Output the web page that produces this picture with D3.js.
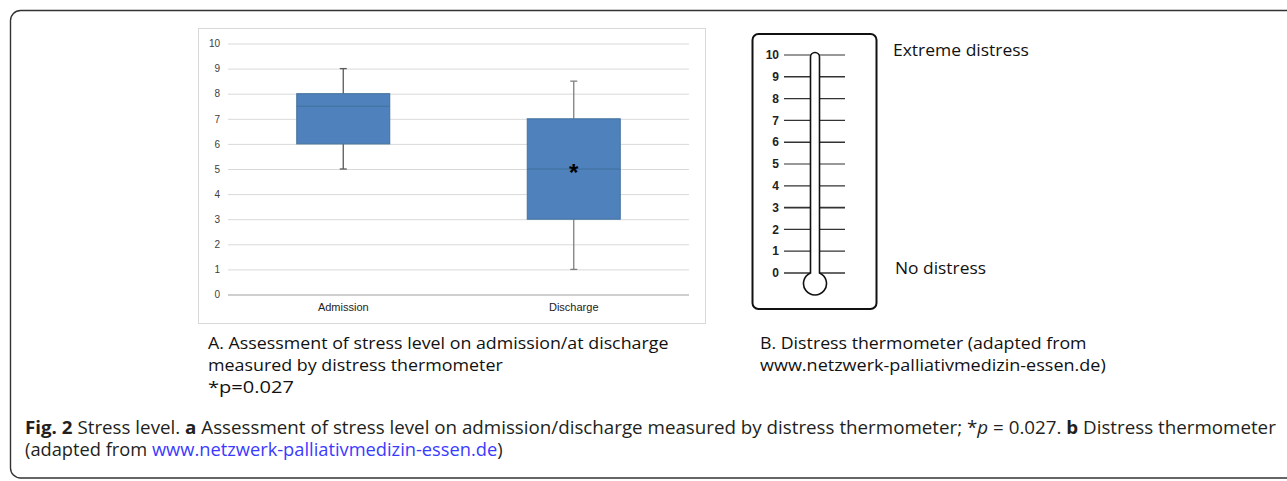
<!DOCTYPE html>
<html><head><meta charset="utf-8">
<script src="https://cdn.jsdelivr.net/npm/d3@7"></script>
<style>html,body{margin:0;padding:0;background:#fff;}svg{display:block;}</style>
</head><body>
<svg id="c" width="1287" height="481"></svg>
<script>
// ---- data ----
const categories = ["Admission", "Discharge"];
const whiskerLow = [5, 1];
const quartile1 = [6, 3];
const medians = [7.5, 5];
const quartile3 = [8, 7];
const whiskerHigh = [9, 8.5];
const significant = [false, true];
const yTicks = [0, 1, 2, 3, 4, 5, 6, 7, 8, 9, 10];
const thermoTicks = [0, 1, 2, 3, 4, 5, 6, 7, 8, 9, 10];
const thermoLabels = ["Extreme distress", "No distress"];
const captionA = ["A. Assessment of stress level on admission/at discharge", "measured by distress thermometer", "*p=0.027"];
const captionB = ["B. Distress thermometer (adapted from", "www.netzwerk-palliativmedizin-essen.de)"];

const svg = d3.select("#c");

// outer frame
svg.append("rect").attr("x", 10.5).attr("y", 10.5).attr("width", 1300).attr("height", 467.5)
  .attr("rx", 10).attr("fill", "none").attr("stroke", "#333").attr("stroke-width", 1.4);

// ---- Panel A: box plot ----
svg.append("rect").attr("x", 198.5).attr("y", 28.5).attr("width", 507).attr("height", 295)
  .attr("fill", "#fff").attr("stroke", "#d9d9d9").attr("stroke-width", 1);

const x = d3.scaleBand().domain(categories).range([228, 689]);
const y = d3.scaleLinear().domain([0, 10]).range([294.5, 43.5]);

const gy = svg.append("g").attr("transform", "translate(228,0)")
  .call(d3.axisLeft(y).tickValues(yTicks).tickSize(-461).tickPadding(8).tickFormat(d3.format("d")));
gy.select(".domain").remove();
gy.selectAll(".tick line").attr("stroke", d => d === 0 ? "#bfbfbf" : "#d9d9d9").attr("stroke-width", d => d === 0 ? 1.6 : 1);
gy.selectAll(".tick text").attr("fill", "#404040").attr("font-family", "Liberation Sans, Arial, sans-serif").attr("font-size", 10);

const gx = svg.append("g").attr("transform", "translate(0,294.5)")
  .call(d3.axisBottom(x).tickSize(0).tickPadding(9));
gx.select(".domain").remove();
gx.selectAll(".tick text").attr("fill", "#222").attr("font-family", "Liberation Sans, Arial, sans-serif").attr("font-size", 11);

const boxW = 93;
const boxes = svg.append("g").selectAll("g").data(categories).join("g");
boxes.each(function (c, i) {
  const g = d3.select(this);
  const cx = x(c) + x.bandwidth() / 2;
  const wcol = i === 0 ? "#595959" : "#7f7f7f";
  g.append("line").attr("x1", cx).attr("x2", cx).attr("y1", y(whiskerHigh[i])).attr("y2", y(quartile3[i])).attr("stroke", wcol).attr("stroke-width", 1.3);
  g.append("line").attr("x1", cx).attr("x2", cx).attr("y1", y(quartile1[i])).attr("y2", y(whiskerLow[i])).attr("stroke", wcol).attr("stroke-width", 1.3);
  [whiskerHigh[i], whiskerLow[i]].forEach(v => {
    g.append("line").attr("x1", cx - 3.5).attr("x2", cx + 3.5).attr("y1", y(v)).attr("y2", y(v)).attr("stroke", wcol).attr("stroke-width", 1.3);
  });
  g.append("rect").attr("x", cx - boxW / 2).attr("y", y(quartile3[i])).attr("width", boxW)
    .attr("height", y(quartile1[i]) - y(quartile3[i])).attr("fill", "#4f81bd").attr("stroke", "#41719c").attr("stroke-width", 1);
  g.append("line").attr("x1", cx - boxW / 2).attr("x2", cx + boxW / 2).attr("y1", y(medians[i])).attr("y2", y(medians[i]))
    .attr("stroke", "#41719c").attr("stroke-width", 1);
  if (significant[i]) {
    g.append("text").attr("x", cx).attr("y", y(medians[i]) + 12).attr("text-anchor", "middle")
      .attr("font-family", "Liberation Sans, Arial, sans-serif").attr("font-weight", "bold").attr("font-size", 24).attr("fill", "#000").text("*");
  }
});

// ---- Panel B: thermometer ----
svg.append("rect").attr("x", 752.5).attr("y", 34).attr("width", 124).attr("height", 275).attr("rx", 6)
  .attr("fill", "#fff").attr("stroke", "#111").attr("stroke-width", 2);
const yt = d3.scaleLinear().domain([0, 10]).range([273, 55]);
const tg = svg.append("g");
tg.selectAll("line").data(thermoTicks).join("line")
  .attr("x1", 784).attr("x2", 845).attr("y1", d => yt(d)).attr("y2", d => yt(d))
  .attr("stroke", "#333").attr("stroke-width", d => d % 3 === 0 ? 1.6 : 1.2);
tg.selectAll("text").data(thermoTicks).join("text")
  .attr("x", 779).attr("y", d => yt(d) + 4.2).attr("text-anchor", "end")
  .attr("font-family", "Liberation Sans, Arial, sans-serif").attr("font-weight", "bold").attr("font-size", 12).attr("fill", "#222")
  .text(d => d);
const tl = 810.5, tr = 819.5, bcx = 815, bcy = 283.5, br = 11.5;
const dy = Math.sqrt(br * br - (tr - bcx) * (tr - bcx));
const tubeTop = yt(10) + 2;
svg.append("path")
  .attr("d", `M${tl},${bcy - dy} L${tl},${tubeTop} A4.5,4.5 0 0 1 ${tr},${tubeTop} L${tr},${bcy - dy} A${br},${br} 0 1 1 ${tl},${bcy - dy} Z`)
  .attr("fill", "#fff").attr("stroke", "#111").attr("stroke-width", 1.6);

// ---- texts ----
function fitText(xPos, yPos, width, build, opts) {
  const g = svg.append("g").attr("transform", `translate(${xPos},${yPos})`);
  const t = g.append("text").attr("x", 0).attr("y", 0)
    .attr("font-family", opts.family).attr("font-size", opts.size).attr("fill", opts.fill || "#111");
  build(t);
  const w = t.node().getComputedTextLength();
  g.attr("transform", `translate(${xPos},${yPos}) scale(${width / w},1)`);
  return t;
}
const calib = { family: "Open Sans, Liberation Sans, sans-serif", size: 16.5, fill: "#111" };
fitText(893, 56, 136, t => t.text(thermoLabels[0]), calib);
fitText(895, 274, 91, t => t.text(thermoLabels[1]), calib);
const aW = [461, 295, 86];
captionA.forEach((s, i) => fitText(208, 349 + i * 22, aW[i], t => t.text(s), calib));
const bW = [327, 346];
captionB.forEach((s, i) => fitText(760, 349 + i * 22, bW[i], t => t.text(s), calib));

const capOpts = { family: "Open Sans, Liberation Sans, sans-serif", size: 18, fill: "#231f20" };
fitText(25, 434, 1252, t => {
  t.append("tspan").attr("font-weight", "bold").text("Fig. 2");
  t.append("tspan").text(" Stress level. ");
  t.append("tspan").attr("font-weight", "bold").text("a");
  t.append("tspan").text(" Assessment of stress level on admission/discharge measured by distress thermometer; *");
  t.append("tspan").attr("font-style", "italic").text("p");
  t.append("tspan").text(" = 0.027. ");
  t.append("tspan").attr("font-weight", "bold").text("b");
  t.append("tspan").text(" Distress thermometer");
}, capOpts);
fitText(25, 456, 478, t => {
  t.append("tspan").text("(adapted from ");
  t.append("tspan").attr("fill", "#3a3aff").text("www.netzwerk-palliativmedizin-essen.de");
  t.append("tspan").text(")");
}, capOpts);
</script>
</body></html>
